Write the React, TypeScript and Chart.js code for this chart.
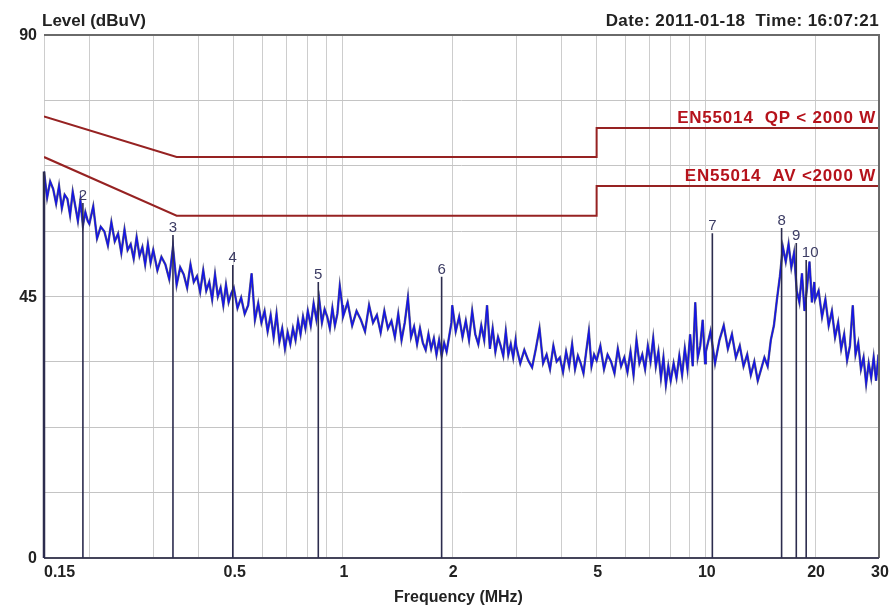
import React, { useEffect, useRef } from 'react';
import { Chart, registerables } from 'chart.js';

Chart.register(...registerables);

const traceFreqMHz: number[] = [
  0.150, 0.153, 0.156, 0.159, 0.162, 0.165, 0.168, 0.171, 0.174, 0.177, 0.180, 0.183, 0.186, 0.189, 0.192, 0.195, 0.198,
  0.200, 0.205, 0.210, 0.215, 0.220, 0.225, 0.230, 0.235, 0.240, 0.245, 0.250, 0.255, 0.260, 0.265, 0.270, 0.275, 0.280, 0.285, 0.290, 0.295,
  0.300, 0.308, 0.316, 0.324, 0.332, 0.340, 0.348, 0.356, 0.364, 0.372, 0.380, 0.388, 0.396, 0.404, 0.412, 0.420, 0.428, 0.436, 0.444, 0.452, 0.460, 0.468, 0.476, 0.484, 0.492,
  0.500, 0.512, 0.524, 0.536, 0.548, 0.560, 0.572, 0.584, 0.596, 0.608, 0.620, 0.632, 0.644, 0.656, 0.668, 0.680, 0.692, 0.704, 0.716, 0.728, 0.740, 0.752, 0.764, 0.776, 0.788,
  0.800, 0.815, 0.830, 0.845, 0.860, 0.875, 0.890, 0.905, 0.920, 0.935, 0.950, 0.965, 0.980, 0.995,
  1.00, 1.03, 1.06, 1.09, 1.12, 1.15, 1.18, 1.21, 1.24, 1.27, 1.30, 1.33, 1.36, 1.39, 1.42, 1.45, 1.48, 1.51, 1.54, 1.57, 1.60, 1.63, 1.66, 1.69, 1.72, 1.75, 1.78, 1.81, 1.84, 1.87, 1.90, 1.93, 1.96, 1.99,
  2.000, 2.045, 2.090, 2.135, 2.180, 2.225, 2.270, 2.315, 2.360, 2.405, 2.450, 2.495, 2.540, 2.585, 2.630, 2.675, 2.720, 2.765, 2.810, 2.855, 2.900, 2.945, 2.990,
  3.00, 3.08, 3.16, 3.24, 3.32, 3.40, 3.48, 3.56, 3.64, 3.72, 3.80, 3.88, 3.96, 4.04, 4.12, 4.20, 4.28, 4.36, 4.44, 4.52, 4.60, 4.68, 4.76, 4.84, 4.92,
  5.00, 5.12, 5.24, 5.36, 5.48, 5.60, 5.72, 5.84, 5.96, 6.08, 6.20, 6.32, 6.44, 6.56, 6.68, 6.80, 6.92, 7.04, 7.16, 7.28, 7.40, 7.52, 7.64, 7.76, 7.88,
  8.00, 8.15, 8.30, 8.45, 8.60, 8.75, 8.90, 9.05, 9.20, 9.35, 9.50, 9.65, 9.80, 9.95,
  10.0, 10.3, 10.6, 10.9, 11.2, 11.5, 11.8, 12.1, 12.4, 12.7, 13.0, 13.3, 13.6, 13.9, 14.2, 14.5, 14.8, 15.1, 15.4, 15.7, 16.0, 16.3, 16.6, 16.9, 17.2, 17.5, 17.8, 18.1, 18.4, 18.7, 19.0, 19.3, 19.6, 19.9,
  20.00, 20.45, 20.90, 21.35, 21.80, 22.25, 22.70, 23.15, 23.60, 24.05, 24.50, 24.95, 25.40, 25.85, 26.30, 26.75, 27.20, 27.65, 28.10, 28.55, 29.00, 29.45, 29.90, 30.00,
];
const traceLevel: number[] = [
  66.5, 62.0, 64.8, 63.5, 61.0, 64.0, 60.2, 62.5, 61.8, 59.0, 63.0, 60.5, 58.0, 61.5, 57.2, 59.5, 58.0,
  57.5, 60.5, 55.0, 57.0, 56.2, 53.8, 57.8, 54.5, 55.8, 52.5, 56.5, 53.0, 54.0, 51.5, 55.2, 52.0, 53.5, 50.5, 54.0, 50.8,
  53.0, 49.5, 51.8, 50.5, 48.0, 53.5, 47.0, 50.0, 48.8, 46.5, 50.5, 47.5, 48.5, 45.8, 49.5, 46.0, 47.5, 44.5, 48.8, 45.0, 46.5, 43.5, 47.0, 44.0, 45.5,
  46.5, 43.0, 44.8, 42.0, 43.5, 49.0, 41.0, 43.8, 40.5, 42.5, 39.0, 41.8, 38.0, 42.0, 37.2, 39.5, 36.0, 38.8, 36.8, 39.5, 37.5, 40.8, 38.5, 41.5, 39.5,
  42.5, 40.0, 43.8, 41.0, 44.5, 40.5, 42.8, 41.5, 39.5, 43.0, 40.0, 42.0, 46.8, 43.5,
  41.5, 44.0, 40.0, 42.5, 41.0, 39.0, 43.5, 40.5, 41.8, 38.8, 42.5, 39.5, 40.8, 38.0, 42.0, 37.5, 40.5, 44.8, 38.0, 39.8, 36.8, 39.5, 37.0, 35.8, 38.5, 36.0, 37.8, 35.0, 37.5, 34.8, 37.0, 35.5, 38.0, 40.5,
  43.5, 39.0, 41.5, 38.0, 40.8, 37.5, 42.5, 38.5, 36.8, 40.0, 37.5, 43.5, 36.0, 39.5, 35.5, 38.0, 36.5, 34.8, 39.0, 35.0, 36.8, 34.5, 37.5,
  36.5, 33.5, 35.8, 34.0, 32.8, 36.0, 39.5, 33.5, 35.0, 32.5, 36.5, 33.8, 34.5, 32.0, 35.5, 33.0, 36.8, 32.5, 34.8, 33.5, 31.8, 35.5, 39.0, 33.0, 35.0,
  34.0, 36.5, 32.5, 35.0, 33.8, 31.8, 36.0, 33.0, 34.5, 32.0, 35.5, 31.5, 37.5, 33.5, 35.0, 32.5, 36.5, 33.8, 37.8, 33.0, 35.5, 31.0, 34.5, 29.8, 33.0,
  30.5, 33.5, 31.0, 34.8, 31.5, 36.0, 32.5, 38.5, 33.0, 44.0, 34.5, 36.5, 41.0, 33.5,
  35.5, 39.0, 33.5, 37.5, 40.0, 36.0, 38.5, 34.5, 36.5, 33.0, 35.0, 31.5, 33.8, 30.5, 32.5, 34.5, 33.0, 37.5, 40.0, 44.5, 48.5, 53.5, 51.0, 54.0, 50.0, 52.5, 46.0, 44.0, 49.0, 42.5, 46.5, 51.0, 44.0, 47.5,
  44.5, 46.0, 41.5, 44.5, 40.0, 42.5, 38.0, 40.5, 36.0, 38.5, 34.0, 36.5, 43.5, 35.0, 37.0, 32.5, 34.5, 30.0, 33.5, 31.0, 34.5, 30.5, 35.0, 31.5,
];

// Peak markers
const markerFreqMHz: number[] = [0.15, 0.192, 0.34, 0.497, 0.855, 1.87, 10.42, 16.17, 17.75, 18.9];
const markerLevel: number[] = [66.5, 61.1, 55.6, 50.4, 47.5, 48.4, 55.9, 56.8, 54.2, 51.3];
const markerLabels: string[] = ['1', '2', '3', '4', '5', '6', '7', '8', '9', '10'];

// Limit lines
const qpFreqMHz: number[] = [0.15, 0.348, 5, 5, 30];
const qpLevel: number[] = [76, 69, 69, 74, 74];
const avFreqMHz: number[] = [0.15, 0.348, 5, 5, 30];
const avLevel: number[] = [69, 58.9, 58.9, 64, 64];
const qpLabel = 'EN55014  QP < 2000 W';
const avLabel = 'EN55014  AV <2000 W';

// Axes
const xGridValues: number[] = [0.15, 0.2, 0.3, 0.4, 0.5, 0.6, 0.7, 0.8, 0.9, 1, 2, 3, 4, 5, 6, 7, 8, 9, 10, 20, 30];
const xTickValues: number[] = [0.15, 0.5, 1, 2, 5, 10, 20, 30];
const xTickLabels: string[] = ['0.15', '0.5', '1', '2', '5', '10', '20', '30'];
const yTickValues: number[] = [0, 45, 90];
const yTickLabels: string[] = ['0', '45', '90'];
const yTitle = 'Level (dBuV)';
const xTitle = 'Frequency (MHz)';
const headerRight = 'Date: 2011-01-18  Time: 16:07:21';

const toXY = (xs: number[], ys: number[]) => xs.map((x, i) => ({ x, y: ys[i] }));

const FONT = '"Liberation Sans", Arial, sans-serif';

const decorPlugin = {
  id: 'decor',
  beforeDraw(chart: any) {
    const { ctx, width, height } = chart;
    ctx.save();
    ctx.fillStyle = '#ffffff';
    ctx.fillRect(0, 0, width, height);
    ctx.restore();
  },
  afterDatasetsDraw(chart: any) {
    const { ctx, chartArea } = chart;
    const xs = chart.scales.x;
    const ys = chart.scales.y;
    ctx.save();

    // frame
    ctx.strokeStyle = '#6a6a6a';
    ctx.lineWidth = 2;
    ctx.beginPath();
    ctx.moveTo(chartArea.left, chartArea.top);
    ctx.lineTo(chartArea.right, chartArea.top);
    ctx.lineTo(chartArea.right, chartArea.bottom);
    ctx.stroke();
    ctx.strokeStyle = '#44445a';
    ctx.beginPath();
    ctx.moveTo(chartArea.left, chartArea.bottom);
    ctx.lineTo(chartArea.right, chartArea.bottom);
    ctx.stroke();

    // markers
    markerFreqMHz.forEach((f, i) => {
      const px = xs.getPixelForValue(f);
      const top = ys.getPixelForValue(markerLevel[i]);
      const bottom = ys.getPixelForValue(0);
      ctx.strokeStyle = '#2c2c4e';
      ctx.lineWidth = i === 0 ? 2.5 : 1.6;
      ctx.beginPath();
      ctx.moveTo(px, bottom);
      ctx.lineTo(px, top);
      ctx.stroke();
      if (i > 0) {
        ctx.fillStyle = '#3c3c64';
        ctx.font = `15px ${FONT}`;
        ctx.textAlign = 'center';
        ctx.textBaseline = 'alphabetic';
        ctx.fillText(markerLabels[i], px + (i === 9 ? 4 : 0), top - 3);
      }
    });

    // limit labels
    ctx.fillStyle = '#b5121b';
    ctx.font = `bold 17px ${FONT}`;
    (ctx as any).letterSpacing = '0.8px';
    ctx.textAlign = 'right';
    ctx.textBaseline = 'alphabetic';
    ctx.fillText(qpLabel, chartArea.right - 3, ys.getPixelForValue(qpLevel[qpLevel.length - 1]) - 5);
    ctx.fillText(avLabel, chartArea.right - 3, ys.getPixelForValue(avLevel[avLevel.length - 1]) - 5);
    (ctx as any).letterSpacing = '0px';

    // tick labels
    ctx.fillStyle = '#222222';
    ctx.font = `bold 16px ${FONT}`;
    ctx.textBaseline = 'middle';
    xTickValues.forEach((v, i) => {
      const px = xs.getPixelForValue(v);
      ctx.textAlign = i === 0 ? 'left' : 'center';
      ctx.fillText(xTickLabels[i], i === 0 ? px : px + 1, chartArea.bottom + 15);
    });
    ctx.textAlign = 'right';
    yTickValues.forEach((v, i) => {
      ctx.fillText(yTickLabels[i], chartArea.left - 7, ys.getPixelForValue(v) + 1);
    });

    // titles
    ctx.font = `bold 17px ${FONT}`;
    ctx.textBaseline = 'alphabetic';
    ctx.textAlign = 'left';
    ctx.fillText(yTitle, chartArea.left - 2, 26);
    ctx.textAlign = 'right';
    (ctx as any).letterSpacing = '0.4px';
    ctx.fillText(headerRight, chartArea.right, 26);
    (ctx as any).letterSpacing = '0px';
    ctx.font = `bold 16px ${FONT}`;
    ctx.textAlign = 'center';
    ctx.fillText(xTitle, (chartArea.left + chartArea.right) / 2 - 3, 602);

    ctx.restore();
  },
};

export default function App() {
  const ref = useRef<HTMLCanvasElement | null>(null);
  useEffect(() => {
    if (!ref.current) return;
    const chart = new Chart(ref.current, {
      type: 'line',
      data: {
        datasets: [
          {
            data: toXY(qpFreqMHz, qpLevel),
            borderColor: '#962222',
            borderWidth: 2,
            pointRadius: 0,
            tension: 0,
            order: 0,
          },
          {
            data: toXY(avFreqMHz, avLevel),
            borderColor: '#962222',
            borderWidth: 2,
            pointRadius: 0,
            tension: 0,
            order: 0,
          },
          {
            data: toXY(traceFreqMHz, traceLevel),
            borderColor: '#1414e8',
            borderWidth: 1.4,
            pointRadius: 0,
            tension: 0,
            order: 1,
          },
          {
            data: toXY(traceFreqMHz, traceLevel),
            borderColor: '#5c5c80',
            borderWidth: 2.4,
            pointRadius: 0,
            tension: 0,
            order: 2,
          },
        ],
      },
      options: {
        animation: false,
        responsive: false,
        maintainAspectRatio: false,
        layout: { padding: { left: 44, right: 15, top: 35, bottom: 50 } },
        plugins: { legend: { display: false }, tooltip: { enabled: false }, title: { display: false } },
        scales: {
          x: {
            type: 'logarithmic',
            min: 0.15,
            max: 30,
            afterBuildTicks: (scale: any) => {
              scale.ticks = xGridValues.map((v) => ({ value: v }));
            },
            ticks: { display: false },
            grid: { color: '#cdcdcd', lineWidth: 1, drawTicks: false },
            border: { display: false },
          },
          y: {
            type: 'linear',
            min: 0,
            max: 90,
            ticks: { display: false, stepSize: 11.25 },
            grid: { color: '#c4c4c4', lineWidth: 1, drawTicks: false },
            border: { display: false },
          },
        },
      },
      plugins: [decorPlugin],
    } as any);
    return () => chart.destroy();
  }, []);
  return (
    <div style={{ position: 'absolute', left: 0, top: 0, width: 894, height: 608, background: '#fff' }}>
      <canvas ref={ref} width={894} height={608} style={{ width: 894, height: 608, display: 'block' }} />
    </div>
  );
}
